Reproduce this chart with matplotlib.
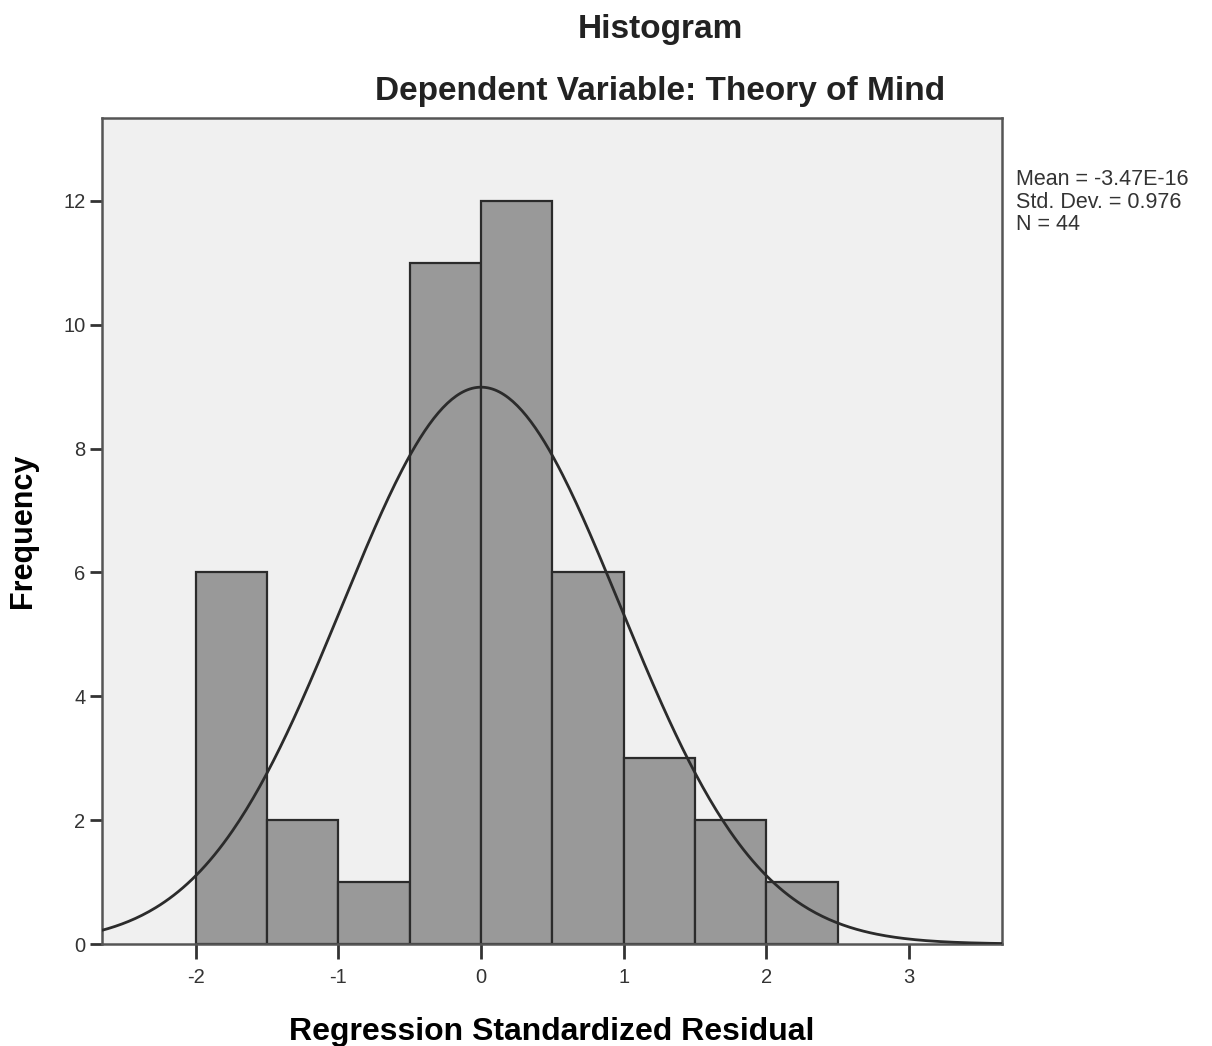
import numpy as np
import matplotlib.pyplot as plt

plt.rcParams['font.family'] = ['Liberation Sans', 'DejaVu Sans']
plt.rcParams['axes.unicode_minus'] = False

bin_edges = [-2.0, -1.5, -1.0, -0.5, 0.0, 0.5, 1.0, 1.5, 2.0, 2.5]
counts = [6, 2, 1, 11, 12, 6, 3, 2, 1]
mean = -3.47e-16
std = 0.976
n = 44

fig = plt.figure(figsize=(12.12, 10.46), dpi=100)
ax = fig.add_axes([0.0842, 0.0975, 0.7425, 0.7897])
ax.set_facecolor('#f0f0f0')

width = bin_edges[1] - bin_edges[0]
ax.bar(bin_edges[:-1], counts, width=width, align='edge',
       color='#999999', edgecolor='#2b2b2b', linewidth=1.6, zorder=2)

# fitted normal curve scaled to counts
xs = np.linspace(-2.66, 3.66, 400)
ys = n * width * np.exp(-0.5 * ((xs - mean) / std) ** 2) / (std * np.sqrt(2 * np.pi))
ax.plot(xs, ys, color='#2b2b2b', lw=2.0, zorder=3)

ax.set_xlim(-2.656, 3.65)
ax.set_ylim(0, 13.34)
ax.set_xticks([-2, -1, 0, 1, 2, 3])
ax.set_yticks([0, 2, 4, 6, 8, 10, 12])
ax.tick_params(axis='x', labelsize=14.5, colors='#333333', length=11, width=2, pad=6)
ax.tick_params(axis='y', labelsize=14.5, colors='#333333', length=9, width=2, pad=3)
for s in ax.spines.values():
    s.set_color('#555555')
    s.set_linewidth(1.8)

ax.set_xlabel('Regression Standardized Residual', fontsize=23, fontweight='bold', labelpad=22)
ax.set_ylabel('Frequency', fontsize=22, fontweight='bold', labelpad=18)

fig.text(0.545, 0.987, 'Histogram', ha='center', va='top', fontsize=24, fontweight='bold', color='#222222')
fig.text(0.545, 0.927, 'Dependent Variable: Theory of Mind', ha='center', va='top', fontsize=24, fontweight='bold', color='#222222')
fig.text(0.838, 0.838, 'Mean = -3.47E-16\nStd. Dev. = 0.976\nN = 44', ha='left', va='top',
         fontsize=15.5, color='#333333', linespacing=1.08)

fig.savefig('out.png', dpi=100)
